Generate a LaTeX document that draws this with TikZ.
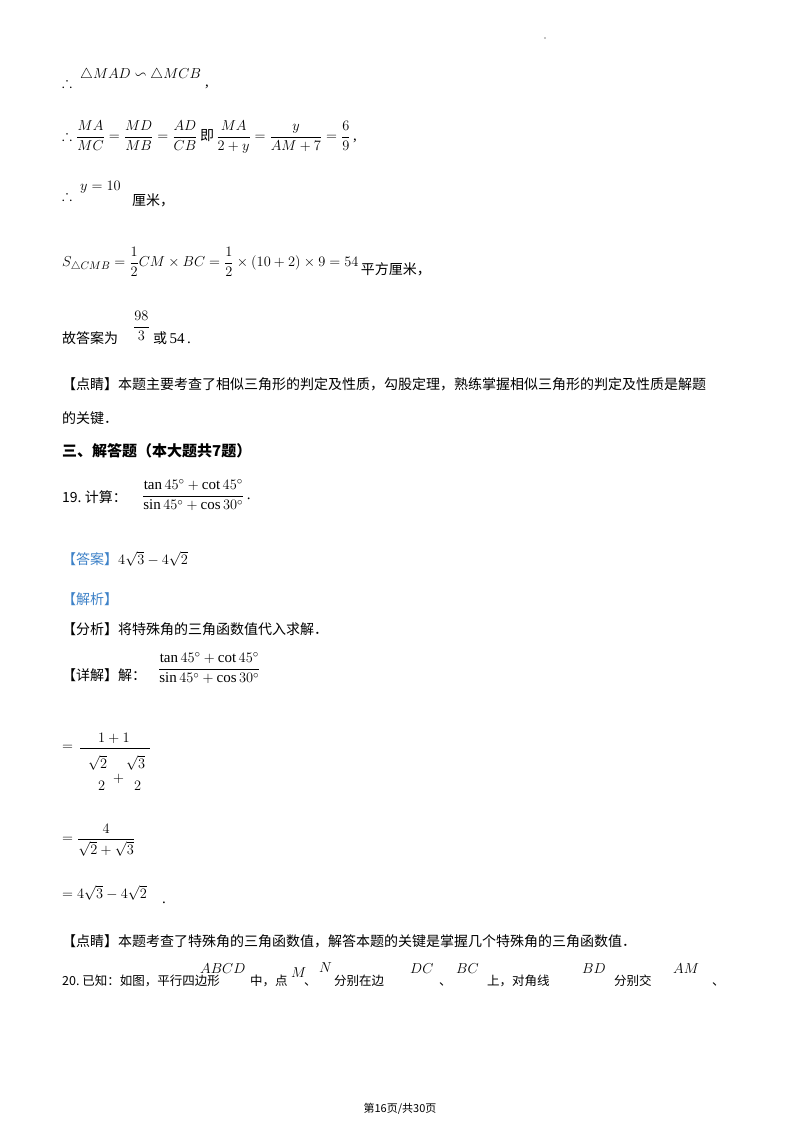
\documentclass[tikz,border=0pt]{standalone}
\usepackage{amsmath,amssymb}
\usepackage{fontspec}
\setmainfont{Liberation Serif}
\newfontfamily\cjk{Noto Sans CJK SC}
\definecolor{ansblue}{RGB}{62,130,200}
\newcommand{\zh}[1]{{\fontsize{14}{17}\selectfont\cjk #1}}
\tikzset{txt/.style={anchor=base west, inner sep=0pt, font=\fontsize{15}{18}\selectfont},
         mth/.style={anchor=west, inner sep=0pt, font=\fontsize{15}{18}\selectfont},
         small/.style={txt, font=\fontsize{12.5}{15}\selectfont\cjk}}
\begin{document}
\begin{tikzpicture}[x=1pt,y=-1pt]
    \useasboundingbox[fill=white] (0,0) rectangle (800,1132);
    \fill (545,38) circle (0.6pt);
    % similar triangles
    \node[txt] (t1) at (62,88) {$\therefore$};
    \node[txt] (t1a) at (80,78) {$\triangle MAD \backsim \triangle MCB$};
    \node[txt] (t1b) at (205,86) {,};
    % ratios
    \node[mth] (t2) at (62,137) {$\therefore \dfrac{MA}{MC}=\dfrac{MD}{MB}=\dfrac{AD}{CB}$\,\zh{即}\,$\dfrac{MA}{2+y}=\dfrac{y}{AM+7}=\dfrac{6}{9}$\,,};
    \node[txt] (t3) at (62,200) {$\therefore$};
    \node[txt] (t3a) at (80,190) {$y=10$};
    \node[txt] (t3b) at (132,205) {\zh{厘米，}};
    \node[mth] (t4) at (62,262) {$S_{\triangle CMB}=\dfrac12 CM\times BC=\dfrac12\times\left(10+2\right)\times9=54$\,\raisebox{-8pt}{\zh{平方厘米，}}};
    \node[txt] (t5) at (62,343) {\zh{故答案为}};
    \node[mth] (t5a) at (133,326) {$\dfrac{98}{3}$};
    \node[txt] (t5b) at (153,343) {\zh{或}\,54\,.};
    \node[txt] (t6) at (62,389) {\zh{【点睛】本题主要考查了相似三角形的判定及性质，勾股定理，熟练掌握相似三角形的判定及性质是解题}};
    \node[txt] (t6a) at (62,423) {\zh{的关键．}};
    \node[txt, font=\fontsize{15}{17}\selectfont\cjk\bfseries] (h3) at (62,456) {三、解答题（本大题共7题）};
    % question 19
    \node[txt] (q19) at (62,502) {\zh{19.~计算：}};
    \node[mth] (q19a) at (142,495) {$\dfrac{\tan45^\circ+\cot45^\circ}{\sin45^\circ+\cos30^\circ}$\,.};
    \node[txt] (ans) at (62,564) {\zh{\color{ansblue}【答案】}$4\sqrt3-4\sqrt2$};
    \node[txt] (jx) at (62,604) {\zh{\color{ansblue}【解析】}};
    \node[txt] (fx) at (62,634) {\zh{【分析】将特殊角的三角函数值代入求解．}};
    \node[txt] (xj) at (62,680) {\zh{【详解】解：}};
    \node[mth] (xja) at (158,668) {$\dfrac{\tan45^\circ+\cot45^\circ}{\sin45^\circ+\cos30^\circ}$};
    % step 1
    \node[mth] (s1) at (62,748) {$=$};
    \draw[line width=0.6pt] (80,748) -- (150,748);
    \node[txt] (s1n) at (98,742) {$1+1$};
    \node[txt] (s1a) at (88,768) {$\sqrt2$};
    \node[txt] (s1b) at (126,768) {$\sqrt3$};
    \node[txt] (s1c) at (98,790) {$2$};
    \node[txt] (s1p) at (113,782) {$+$};
    \node[txt] (s1d) at (134,790) {$2$};
    % step 2
    \node[mth] (s2) at (62,840) {$=\dfrac{4}{\sqrt2+\sqrt3}$};
    \node[txt] (s3) at (62,898) {$=4\sqrt3-4\sqrt2$};
    \node[txt] (s3a) at (162,903) {.};
    \node[txt] (dj) at (62,946) {\zh{【点睛】本题考查了特殊角的三角函数值，解答本题的关键是掌握几个特殊角的三角函数值．}};
    % question 20
    \node[small] (q20) at (62,985) {20.~已知：如图，平行四边形};
    \node[txt] (q20a) at (200,973) {$ABCD$};
    \node[small] (q20b) at (250,985) {中，点};
    \node[txt] (q20c) at (291,977) {$M$};
    \node[small] (q20d) at (304,985) {、};
    \node[txt] (q20e) at (319,972) {$N$};
    \node[small] (q20f) at (334,985) {分别在边};
    \node[txt] (q20g) at (410,973) {$DC$};
    \node[small] (q20h) at (439,985) {、};
    \node[txt] (q20i) at (456,973) {$BC$};
    \node[small] (q20j) at (487,985) {上，对角线};
    \node[txt] (q20k) at (582,973) {$BD$};
    \node[small] (q20l) at (614,985) {分别交};
    \node[txt] (q20m) at (673,973) {$AM$};
    \node[small] (q20n) at (712,985) {、};
    \node[txt, anchor=base, font=\fontsize{11}{13}\selectfont\cjk] (foot) at (400,1112) {第16页/共30页};
\end{tikzpicture}
\end{document}
